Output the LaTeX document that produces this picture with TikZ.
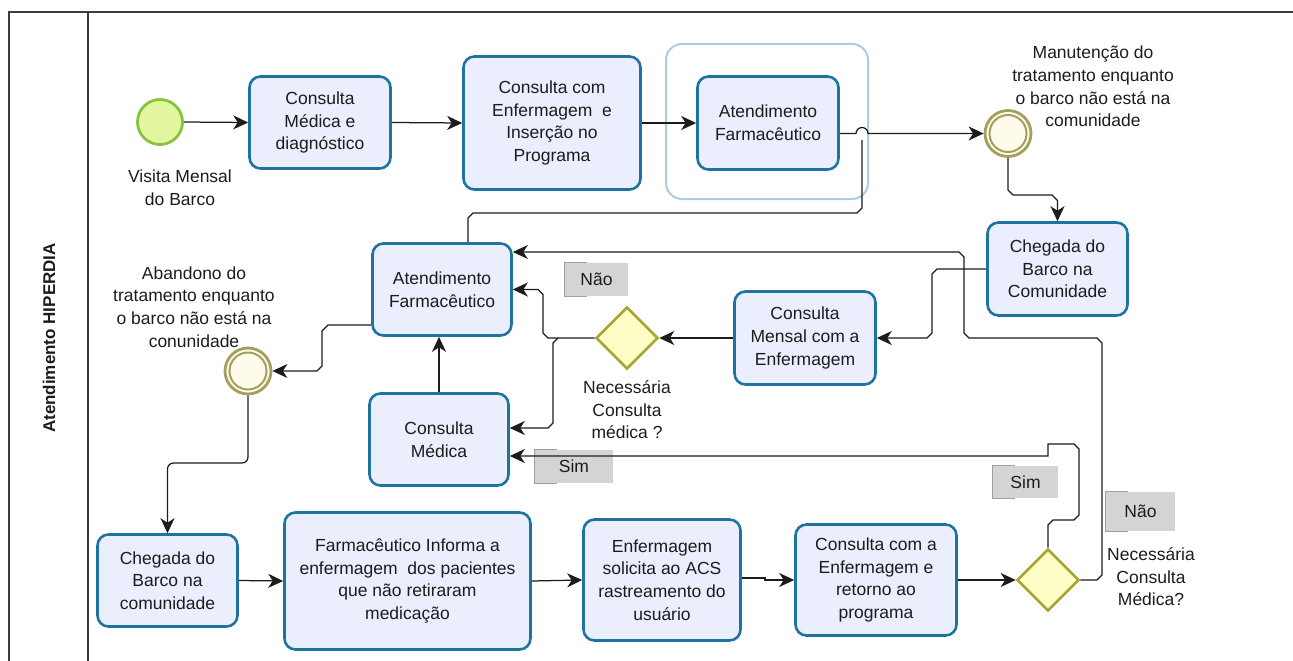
\documentclass[tikz,border=0pt]{standalone}
\usepackage{fontspec}
\setmainfont{Liberation Sans}
\usetikzlibrary{arrows.meta,shapes.geometric}
\definecolor{taskfill}{HTML}{EAEEFD}
\definecolor{taskline}{HTML}{1F73A0}
\definecolor{grpline}{HTML}{A8CFE0}
\definecolor{startfill}{HTML}{E3F7A1}
\definecolor{startline}{HTML}{86C440}
\definecolor{evline}{HTML}{A39F5E}
\definecolor{evfill}{HTML}{FFFBEC}
\definecolor{gwfill}{HTML}{FFFEC6}
\definecolor{gwline}{HTML}{A8A635}
\definecolor{lblfill}{HTML}{D4D4D4}
\definecolor{lbledge}{HTML}{A0A0A0}
\definecolor{ink}{HTML}{1C1C1C}
\definecolor{framec}{HTML}{3C3C3C}
\begin{document}
\begin{tikzpicture}[x=1pt,y=-1pt,
  every node/.style={font=\fontsize{17.5}{22.6}\selectfont, text=ink},
  task/.style={draw=taskline, line width=2.6pt, fill=taskfill, rounded corners=11pt, align=center, inner sep=0pt},
  grp/.style={draw=grpline, line width=2pt, rounded corners=16pt, inner sep=0pt},
  startev/.style={circle, draw=startline, line width=2.8pt, fill=startfill, minimum size=45pt, inner sep=0pt},
  midev/.style={circle, draw=evline, line width=2.8pt, fill=evfill, minimum size=46pt, inner sep=0pt},
  gw/.style={diamond, draw=gwline, line width=2.6pt, fill=gwfill, minimum width=62pt, minimum height=62pt, inner sep=0pt},
  lbl/.style={fill=lblfill, inner sep=0pt},
  txt/.style={align=center, inner sep=0pt},
  conn/.style={draw=ink, line width=1.25pt},
  arr/.style={conn, -{Stealth[length=15pt,width=14pt,inset=4.5pt]}}
]
\useasboundingbox (0,0) rectangle (1293,661);
% frame
\draw[framec, line width=1.5pt] (1293,12) -- (9,12) -- (9,661);
\draw[framec, line width=1.5pt] (88,12) -- (88,661);
\node[rotate=90, font=\bfseries\fontsize{17}{20}\selectfont] (lane) at (49,338) {Atendimento HIPERDIA};

% group
\node[grp, minimum width=202pt, minimum height=155pt] (grp) at (767,121.5) {};

% tasks
\node[task, minimum width=141pt, minimum height=92pt] (t1) at (320,122.5) {Consulta\\Médica e\\diagnóstico};
\node[task, minimum width=177pt, minimum height=133pt] (t2) at (552,123) {Consulta com\\Enfermagem\ \ e\\Inserção no\\Programa};
\node[task, minimum width=141pt, minimum height=93pt] (t3) at (768,123) {Atendimento\\Farmacêutico};
\node[task, minimum width=140pt, minimum height=93pt] (ch1) at (1057.5,269) {Chegada do\\Barco na\\Comunidade};
\node[task, minimum width=141pt, minimum height=93pt] (cm) at (805,338) {Consulta\\Mensal com a\\Enfermagem};
\node[task, minimum width=139pt, minimum height=92pt] (a2) at (442,289.5) {Atendimento\\Farmacêutico};
\node[task, minimum width=139pt, minimum height=92pt] (mc) at (439,439.5) {Consulta\\Médica};
\node[task, minimum width=140pt, minimum height=92pt] (ch2) at (167.5,580.5) {Chegada do\\Barco na\\comunidade};
\node[task, minimum width=246pt, minimum height=137pt] (fi) at (407.5,581) {Farmacêutico Informa a\\enfermagem\ \ dos pacientes\\que não retiraram\\medicação};
\node[task, minimum width=157pt, minimum height=121pt] (es) at (662,580) {Enfermagem\\solicita ao ACS\\rastreamento do\\usuário};
\node[task, minimum width=161pt, minimum height=111pt] (ce) at (876,580) {Consulta com a\\Enfermagem e\\retorno ao\\programa};

% events
\node[startev] (st) at (160,122) {};
\node[txt] (stl) at (180,188) {Visita Mensal\\do Barco};
\node[midev] (ev1) at (1008,133.5) {};
\draw[evline, line width=2pt] (ev1.center) circle (18.5);
\node[txt] (ev1l) at (1093,86.5) {Manutenção do\\tratamento enquanto\\o barco não está na\\comunidade};
\node[midev] (ev2) at (248,371) {};
\draw[evline, line width=2pt] (ev2.center) circle (18.5);
\node[txt] (ev2l) at (194,307) {Abandono do\\tratamento enquanto\\o barco não está na\\conunidade};

% gateways
\node[gw] (g1) at (627,338) {};
\node[txt] (g1l) at (627,410) {Necessária\\Consulta\\médica ?};
\node[gw] (g2) at (1048,580) {};
\node[txt] (g2l) at (1151,577) {Necessária\\Consulta\\Médica?};

% gray labels
\node[lbl, minimum width=63pt, minimum height=33pt] (nao1) at (596.5,279.5) {Não};
\node[lbl, minimum width=78pt, minimum height=33pt] (sim1) at (574,466.5) {Sim};
\node[lbl, minimum width=65pt, minimum height=32pt] (sim2) at (1025.5,482) {Sim};
\node[lbl, minimum width=69pt, minimum height=39pt] (nao2) at (1140.5,511.5) {Não};
\foreach \n in {nao1,sim1,sim2,nao2}{
  \draw[lbledge, line width=1.2pt] ([xshift=22pt]\n.north west) -- (\n.north west) -- (\n.south west) -- ([xshift=22pt]\n.south west);
}

% connectors
\draw[arr] (st.east) -- (t1.west);
\draw[arr] (t1.east) -- (t2.west);
\draw[arr] (t2.east) -- (t3.west);
\draw[arr] (t3.east |- ev1.west) -- (856,133.5) arc[start angle=180, end angle=360, radius=6] -- (ev1.west);
\draw[conn] ([xshift=26pt]a2.north) -- (468,218) -- (473,213) -- (857,213) -- (862,208) -- (862,140);
\draw[arr] (ev1.south) -- (1008,190) -- (1013,195) -- (1052,195) -- (1057.5,200.5) -- (ch1.north);
\draw[arr] (ch1.west) -- (937,269) -- (932,274) -- (932,333) -- (927,338) -- (cm.east);
\draw[arr] (cm.west) -- (g1.east);
\draw[arr] (g1.west) -- (548,338) -- (543,333) -- (543,294.5) -- (538,289.5) -- (a2.east);
\draw[arr] (558,338) -- (553,343) -- (553,423) -- (548,428) -- ([yshift=11.5pt]mc.east);
\draw[arr] (mc.north) -- (mc.north |- a2.south);
\draw[arr] (g2.east) -- (1097,580) -- (1102,575) -- (1102,343) -- (1097,338) -- (969,338) -- (964,333) -- (964,257) -- (959,252) -- ([yshift=37.5pt]a2.east);
\draw[arr] (g2.north) -- (1048,525) -- (1053,520) -- (1074,520) -- (1079,515) -- (1079,449) -- (1074,444) -- (1048,444) -- (1048,456) -- ([yshift=-16.5pt]mc.east);
\draw[arr] ([yshift=-35.5pt]a2.west) -- (328,325) -- (322,331) -- (322,366) -- (317,371) -- (ev2.east);
\draw[arr, rounded corners=6pt] (ev2.south) -- (248,463) -- (167.5,463) -- (ch2.north);
\draw[arr] (ch2.east) -- (fi.west);
\draw[arr] (fi.east) -- (es.west);
\draw[arr] ([yshift=2pt]es.east) -- (765,578) -- (765,580) -- (ce.west);
\draw[arr] (ce.east) -- (g2.west);
\end{tikzpicture}
\end{document}
